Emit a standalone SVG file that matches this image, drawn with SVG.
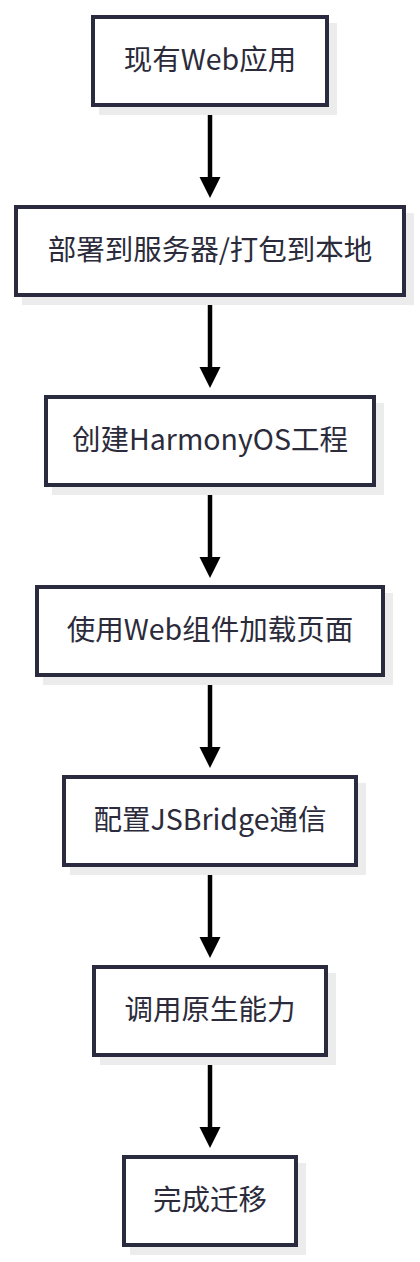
<svg xmlns="http://www.w3.org/2000/svg" width="420" height="1262" viewBox="0 0 420 1262">
<style>
.box{fill:#ffffff;stroke:#2b2b40;stroke-width:4}
.sh{fill:#ececec}
.t{font-family:"Noto Sans CJK SC","Noto Sans",sans-serif;font-size:28.5px;fill:#2b2b3b;text-anchor:middle}
.ln{stroke:#000;stroke-width:4.5}
.hd{fill:#000}
</style>
<rect width="420" height="1262" fill="#ffffff"/>
<g id="connectors">
<line class="ln" x1="210" y1="107" x2="210" y2="179"/><polygon class="hd" points="199.5,177 220.5,177 210,198"/>
<line class="ln" x1="210" y1="297" x2="210" y2="369"/><polygon class="hd" points="199.5,367 220.5,367 210,388"/>
<line class="ln" x1="210" y1="487" x2="210" y2="559"/><polygon class="hd" points="199.5,557 220.5,557 210,578"/>
<line class="ln" x1="210" y1="677" x2="210" y2="749"/><polygon class="hd" points="199.5,747 220.5,747 210,768"/>
<line class="ln" x1="210" y1="867" x2="210" y2="939"/><polygon class="hd" points="199.5,937 220.5,937 210,958"/>
<line class="ln" x1="210" y1="1057" x2="210" y2="1129"/><polygon class="hd" points="199.5,1127 220.5,1127 210,1148"/>
</g>
<g id="n1"><rect class="sh" x="99" y="23" width="238" height="92"/><rect class="box" x="93" y="17" width="234" height="88"/><text class="t" x="210" y="70">现有Web应用</text></g>
<g id="n2"><rect class="sh" x="22" y="213" width="392" height="92"/><rect class="box" x="16" y="207" width="388" height="88"/><text class="t" x="210" y="260">部署到服务器/打包到本地</text></g>
<g id="n3"><rect class="sh" x="52" y="403" width="332" height="92"/><rect class="box" x="46" y="397" width="328" height="88"/><text class="t" x="210" y="450">创建HarmonyOS工程</text></g>
<g id="n4"><rect class="sh" x="43" y="593" width="350" height="92"/><rect class="box" x="37" y="587" width="346" height="88"/><text class="t" x="210" y="640">使用Web组件加载页面</text></g>
<g id="n5"><rect class="sh" x="70" y="783" width="296" height="92"/><rect class="box" x="64" y="777" width="292" height="88"/><text class="t" x="210" y="830">配置JSBridge通信</text></g>
<g id="n6"><rect class="sh" x="100" y="973" width="236" height="92"/><rect class="box" x="94" y="967" width="232" height="88"/><text class="t" x="210" y="1020">调用原生能力</text></g>
<g id="n7"><rect class="sh" x="130" y="1163" width="176" height="92"/><rect class="box" x="124" y="1157" width="172" height="88"/><text class="t" x="210" y="1210">完成迁移</text></g>
</svg>
